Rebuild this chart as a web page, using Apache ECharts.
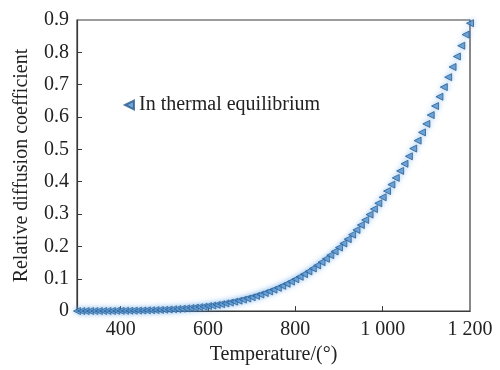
<!DOCTYPE html>
<html>
<head>
<meta charset="utf-8">
<script src="https://cdn.jsdelivr.net/npm/echarts@6/dist/echarts.min.js"></script>
<style>
  html, body { margin: 0; padding: 0; background: #fff; }
  #chart { width: 500px; height: 370px; }
</style>
</head>
<body>
<div id="chart"></div>
<script>
// Temperature samples (°) and relative diffusion coefficient at each
const temperatures = [
  300, 310, 320, 330, 340, 350, 360, 370, 380, 390,
  400, 410, 420, 430, 440, 450, 460, 470, 480, 490,
  500, 510, 520, 530, 540, 550, 560, 570, 580, 590,
  600, 610, 620, 630, 640, 650, 660, 670, 680, 690,
  700, 710, 720, 730, 740, 750, 760, 770, 780, 790,
  800, 810, 820, 830, 840, 850, 860, 870, 880, 890,
  900, 910, 920, 930, 940, 950, 960, 970, 980, 990,
  1000, 1010, 1020, 1030, 1040, 1050, 1060, 1070, 1080, 1090,
  1100, 1110, 1120, 1130, 1140, 1150, 1160, 1170, 1180, 1190,
  1200
];
const diffusion = [
  0.0001, 0.0001, 0.0001, 0.0002, 0.0002, 0.0003, 0.0004, 0.0004, 0.0005, 0.0007,
  0.0008, 0.0010, 0.0012, 0.0014, 0.0016, 0.0019, 0.0023, 0.0027, 0.0031, 0.0037,
  0.0042, 0.0049, 0.0056, 0.0064, 0.0074, 0.0084, 0.0095, 0.0108, 0.0122, 0.0137,
  0.0154, 0.0172, 0.0192, 0.0214, 0.0238, 0.0264, 0.0292, 0.0322, 0.0355, 0.0390,
  0.0428, 0.0469, 0.0512, 0.0559, 0.0609, 0.0662, 0.0719, 0.0780, 0.0844, 0.0912,
  0.0985, 0.1061, 0.1142, 0.1228, 0.1318, 0.1413, 0.1513, 0.1618, 0.1728, 0.1844,
  0.1965, 0.2092, 0.2225, 0.2364, 0.2509, 0.2661, 0.2819, 0.2984, 0.3155, 0.3333,
  0.3519, 0.3711, 0.3911, 0.4118, 0.4333, 0.4555, 0.4786, 0.5025, 0.5271, 0.5525,
  0.5788, 0.6060, 0.6340, 0.6628, 0.6926, 0.7232, 0.7547, 0.7872, 0.8205, 0.8548,
  0.8900
];
const xTicks = [400, 600, 800, 1000, 1200];
const yTicks = [0, 0.1, 0.2, 0.3, 0.4, 0.5, 0.6, 0.7, 0.8, 0.9];
const seriesName = 'In thermal equilibrium';

const FONT = '"Liberation Serif", "Times New Roman", serif';
const AXIS_COLOR = '#3a3a3a';
// Left-pointing triangle used for the markers and the legend key
const LEFT_TRIANGLE = 'path://M0,5 L10,0 L10,10 Z';

const chart = echarts.init(document.getElementById('chart'), null, { renderer: 'canvas' });

chart.setOption({
  animation: false,
  backgroundColor: '#ffffff',
  grid: {
    left: 77, right: 30, top: 20, bottom: 58,
    show: true, borderColor: AXIS_COLOR, borderWidth: 1.2
  },
  legend: {
    data: [{ name: seriesName, icon: LEFT_TRIANGLE }],
    left: 119, top: 90,
    itemWidth: 9, itemHeight: 9, itemGap: 6,
    textStyle: { fontFamily: FONT, fontSize: 20, color: '#222' }
  },
  xAxis: {
    type: 'value',
    min: 300, max: 1200,
    name: 'Temperature/(°)',
    nameLocation: 'middle',
    nameGap: 31,
    nameTextStyle: { fontFamily: FONT, fontSize: 20, color: '#222' },
    axisLine: { show: true, lineStyle: { color: AXIS_COLOR, width: 1.2 } },
    axisTick: { show: true, inside: true, length: 5, customValues: xTicks.slice(0, 4),
      lineStyle: { color: AXIS_COLOR } },
    axisLabel: {
      customValues: xTicks,
      margin: 9,
      fontFamily: FONT, fontSize: 20, color: '#222',
      formatter: v => v >= 1000 ? Math.floor(v / 1000) + ' ' + String(v % 1000).padStart(3, '0') : String(v)
    },
    splitLine: { show: false }
  },
  yAxis: {
    type: 'value',
    min: 0, max: 0.9, interval: 0.1,
    name: 'Relative diffusion coefficient',
    nameLocation: 'middle',
    nameGap: 45,
    nameTextStyle: { fontFamily: FONT, fontSize: 20, color: '#222' },
    axisLine: { show: true, lineStyle: { color: AXIS_COLOR, width: 1.2 } },
    axisTick: { show: true, inside: true, length: 5, customValues: yTicks.slice(1, 9),
      lineStyle: { color: AXIS_COLOR } },
    axisLabel: {
      customValues: yTicks,
      margin: 8,
      fontFamily: FONT, fontSize: 20, color: '#222',
      formatter: v => v === 0 ? '0' : v.toFixed(1)
    },
    splitLine: { show: false }
  },
  series: [{
    name: seriesName,
    type: 'scatter',
    data: temperatures.map((t, i) => [t, diffusion[i]]),
    symbol: LEFT_TRIANGLE,
    symbolSize: 7,
    clip: false,
    itemStyle: {
      color: '#4f8fcc',
      borderColor: '#2b5d8e',
      borderWidth: 1,
      shadowBlur: 5,
      shadowColor: 'rgba(110,175,235,0.7)'
    }
  }]
});
</script>
</body>
</html>
